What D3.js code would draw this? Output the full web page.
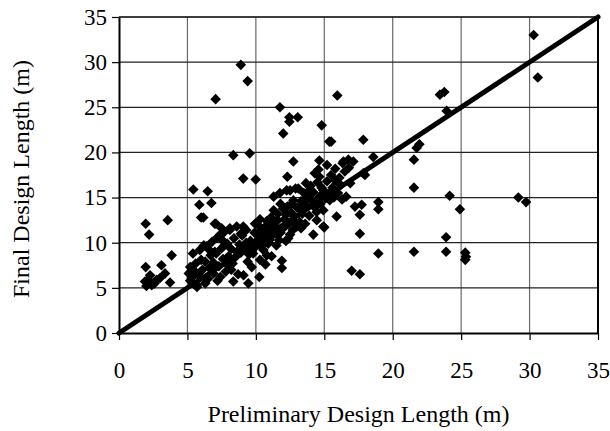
<!DOCTYPE html>
<html>
<head>
<meta charset="utf-8">
<script src="https://cdn.jsdelivr.net/npm/d3@7"></script>
<style>
  body { margin: 0; background: #fff; }
  text { font-family: "Liberation Serif", "Times New Roman", serif; }
</style>
</head>
<body>
<script>
var width = 610, height = 431;
var margin = { top: 17, right: 12, bottom: 98, left: 119 };

var ticks = [0, 5, 10, 15, 20, 25, 30, 35];
var x_title = 'Preliminary Design Length (m)';
var y_title = 'Final Design Length (m)';
var line_data = [[0, 0], [35, 35]];

// scattered points away from the main band
var outlier_points = [
    [1.95, 12.1], [3.56, 12.5], [2.2, 10.9], [3.85, 8.6], [1.95, 7.3], [3.1, 7.5], [3.36, 6.6],
    [2.27, 6.4], [1.9, 5.7], [2.39, 5.3], [3.0, 6.1], [3.73, 5.6], [2.14, 5.9], [2.75, 5.9],
    [2.0, 5.2], [2.6, 5.5],
    [5.43, 15.9], [6.48, 15.7], [5.87, 14.2], [6.75, 14.4], [6.0, 12.8], [6.16, 12.8], [7.09, 12.1],
    [8.1, 11.6], [7.0, 12.1], [7.5, 11.6],
    [8.35, 19.7], [9.55, 19.9], [9.08, 17.1], [9.99, 17.0], [12.3, 17.3], [12.74, 19.0], [14.64, 19.1],
    [12.0, 22.1], [14.81, 23.0], [15.37, 21.2], [12.45, 23.9], [12.45, 23.4], [13.06, 23.9],
    [11.76, 25.0], [7.06, 25.9], [8.9, 29.7], [9.4, 27.9], [15.95, 26.3],
    [16.34, 18.8], [16.76, 19.2], [17.12, 19.0], [17.85, 21.4], [17.97, 17.5], [18.58, 19.5],
    [16.9, 16.6], [17.85, 17.7],
    [21.95, 20.9], [21.75, 20.5], [21.55, 19.2], [21.55, 16.1], [23.45, 26.4], [23.77, 26.7],
    [23.94, 24.6], [30.3, 33.0], [30.6, 28.3],
    [24.16, 15.2], [24.91, 13.7], [29.18, 15.0], [29.74, 14.5], [18.95, 14.5], [18.95, 13.7],
    [17.73, 14.2], [17.24, 14.0], [17.6, 13.1], [17.6, 11.0], [18.95, 8.8], [21.55, 9.0],
    [23.9, 10.6], [23.9, 9.0], [25.3, 8.9], [25.35, 8.45], [25.3, 8.1], [17.0, 6.9], [17.6, 6.5]
];

// dense band along the diagonal
var band_points = [
    [5.1, 6.6], [5.2, 7.3], [5.3, 6.1], [5.4, 8.8], [5.5, 5.4], [5.6, 7.7], [5.7, 5.1], [5.8, 6.4],
    [5.9, 9.2], [6.0, 8.1], [5.5, 6.9], [5.2, 5.8], [5.68, 5.3],
    [6.1, 7.0], [6.2, 9.7], [6.3, 7.9], [6.4, 9.6], [6.5, 6.0], [6.6, 7.2], [6.7, 8.6], [6.8, 10.1],
    [6.9, 6.6], [7.0, 9.0], [6.3, 5.5], [6.6, 9.2], [6.9, 7.8],
    [7.1, 8.8], [7.2, 10.6], [7.3, 7.4], [7.4, 10.9], [7.4, 6.2], [7.5, 9.4], [7.6, 8.2], [7.7, 11.2],
    [7.8, 6.8], [7.9, 9.9], [8.0, 8.5], [7.2, 5.8], [7.6, 10.2], [7.9, 7.6],
    [8.1, 11.4], [8.2, 9.3], [8.3, 7.7], [8.35, 5.7], [8.4, 10.5], [8.5, 8.4], [8.6, 11.8], [8.7, 6.5],
    [8.8, 9.8], [8.9, 8.9], [9.0, 10.8], [8.2, 7.0], [8.6, 9.0], [8.9, 11.0],
    [9.1, 6.4], [9.2, 9.4], [9.3, 11.4], [9.45, 5.5], [9.5, 8.7], [9.6, 10.2], [9.7, 7.3], [9.8, 8.8],
    [9.9, 11.1], [10.0, 9.6], [10.0, 12.1], [9.3, 10.0], [9.7, 9.0], [9.4, 7.9], [9.08, 11.8], [9.94, 12.1],
    [10.25, 6.2], [10.2, 10.4], [10.3, 8.1], [10.4, 11.6], [10.55, 9.2], [10.6, 10.9], [10.7, 7.6],
    [10.8, 12.4], [10.9, 9.9], [11.0, 11.2], [10.4, 9.6], [10.8, 8.6], [11.0, 10.3],
    [10.1, 11.0], [10.5, 10.1], [10.7, 11.8], [10.3, 12.6],
    [11.15, 8.5], [11.1, 12.8], [11.2, 10.8], [11.3, 13.6], [11.4, 11.8], [11.5, 9.7], [11.6, 12.5],
    [11.7, 10.3], [11.8, 14.3], [11.9, 8.0], [11.9, 7.2], [12.0, 11.6], [12.0, 13.8], [11.3, 15.1],
    [11.76, 15.5], [11.5, 11.0], [11.2, 12.0], [11.6, 13.2], [11.8, 11.1],
    [12.1, 12.6], [12.2, 10.2], [12.3, 14.0], [12.37, 10.5], [12.5, 10.9], [12.5, 15.8], [12.4, 12.1],
    [12.6, 13.3], [12.7, 11.4], [12.74, 14.7], [12.8, 12.9], [12.9, 16.0], [13.0, 13.9], [13.0, 11.8],
    [12.25, 15.8], [12.2, 13.1], [12.6, 14.3], [12.9, 12.2],
    [13.1, 16.0], [13.2, 12.3], [13.3, 14.6], [13.4, 13.2], [13.5, 15.5], [13.6, 12.1], [13.66, 16.6],
    [13.7, 14.1], [13.8, 15.1], [13.9, 13.0], [14.0, 16.3], [14.0, 14.8], [13.3, 11.6],
    [13.2, 13.8], [13.6, 14.9], [13.9, 15.8],
    [14.2, 10.9], [14.2, 15.6], [14.3, 13.9], [14.44, 13.4], [14.45, 12.5], [14.5, 16.7], [14.57, 18.1],
    [14.6, 15.0], [14.64, 17.3], [14.7, 14.3], [14.8, 16.1], [14.93, 15.8], [14.93, 13.6], [14.93, 11.8],
    [15.0, 11.7], [14.3, 17.7], [14.4, 14.6], [14.8, 15.3],
    [15.1, 14.9], [15.2, 16.8], [15.3, 15.4], [15.4, 14.7], [15.5, 17.5], [15.6, 16.1], [15.7, 15.0],
    [15.8, 16.9], [15.9, 12.9], [16.0, 15.5], [16.1, 17.2], [16.2, 16.4], [16.3, 14.8], [16.5, 17.9],
    [16.6, 15.1], [16.8, 18.3], [15.5, 21.2], [15.2, 18.6], [15.8, 18.2], [16.4, 19.0]
];

var points = outlier_points.concat(band_points);

var svg = d3.select('body')
    .append('svg')
    .attr('width', width)
    .attr('height', height);

var x = d3.scaleLinear().domain([0, 35]).range([margin.left, width - margin.right]);
var y = d3.scaleLinear().domain([0, 35]).range([height - margin.bottom, margin.top]);

// gridlines
svg.append('g')
    .selectAll('line')
    .data(ticks.slice(1))
    .enter()
    .append('line')
    .attr('x1', function(d) { return x(d); })
    .attr('x2', function(d) { return x(d); })
    .attr('y1', y(0))
    .attr('y2', y(35))
    .attr('stroke', '#6a6a6a')
    .attr('stroke-width', 1.2);

svg.append('g')
    .selectAll('line')
    .data(ticks.slice(1))
    .enter()
    .append('line')
    .attr('x1', x(0))
    .attr('x2', x(35))
    .attr('y1', function(d) { return y(d); })
    .attr('y2', function(d) { return y(d); })
    .attr('stroke', '#222')
    .attr('stroke-width', 1.2);

// axes
var x_axis = svg.append('g')
    .attr('transform', `translate(0, ${y(0)})`)
    .call(d3.axisBottom(x).tickValues(ticks).tickSize(7).tickPadding(22).tickSizeOuter(0));

var y_axis = svg.append('g')
    .attr('transform', `translate(${x(0)}, 0)`)
    .call(d3.axisLeft(y).tickValues(ticks).tickSize(7).tickPadding(5).tickSizeOuter(0));

[x_axis, y_axis].forEach(function(a) {
    a.attr('font-family', 'Liberation Serif').attr('font-size', 23);
    a.select('.domain').attr('stroke', '#000').attr('stroke-width', 2);
    a.selectAll('.tick line').attr('stroke', '#000').attr('stroke-width', 1.2);
    a.selectAll('.tick text').attr('fill', '#000');
});

// frame top and right
svg.append('line')
    .attr('x1', x(0)).attr('x2', x(35))
    .attr('y1', y(35)).attr('y2', y(35))
    .attr('stroke', '#222').attr('stroke-width', 1.5);
svg.append('line')
    .attr('x1', x(35)).attr('x2', x(35))
    .attr('y1', y(35)).attr('y2', y(0))
    .attr('stroke', '#000').attr('stroke-width', 2);

// 1:1 line
svg.append('path')
    .datum(line_data)
    .attr('d', d3.line().x(function(d) { return x(d[0]); }).y(function(d) { return y(d[1]); }))
    .attr('stroke', '#000')
    .attr('stroke-width', 5)
    .attr('stroke-linecap', 'round')
    .attr('fill', 'none');

// diamond markers
var r = 5.3;
svg.append('g')
    .selectAll('path')
    .data(points)
    .enter()
    .append('path')
    .attr('d', `M0,${-r}L${r},0L0,${r}L${-r},0Z`)
    .attr('transform', function(d) { return `translate(${x(d[0])}, ${y(d[1])})`; })
    .attr('fill', '#000');

// titles
svg.append('text')
    .attr('x', (x(0) + x(35)) / 2)
    .attr('y', 422)
    .attr('text-anchor', 'middle')
    .style('font-size', '24px')
    .text(x_title);

svg.append('text')
    .attr('transform', `translate(29, ${(y(0) + y(35)) / 2 + 4}) rotate(-90)`)
    .attr('text-anchor', 'middle')
    .style('font-size', '24px')
    .text(y_title);
</script>
</body>
</html>
